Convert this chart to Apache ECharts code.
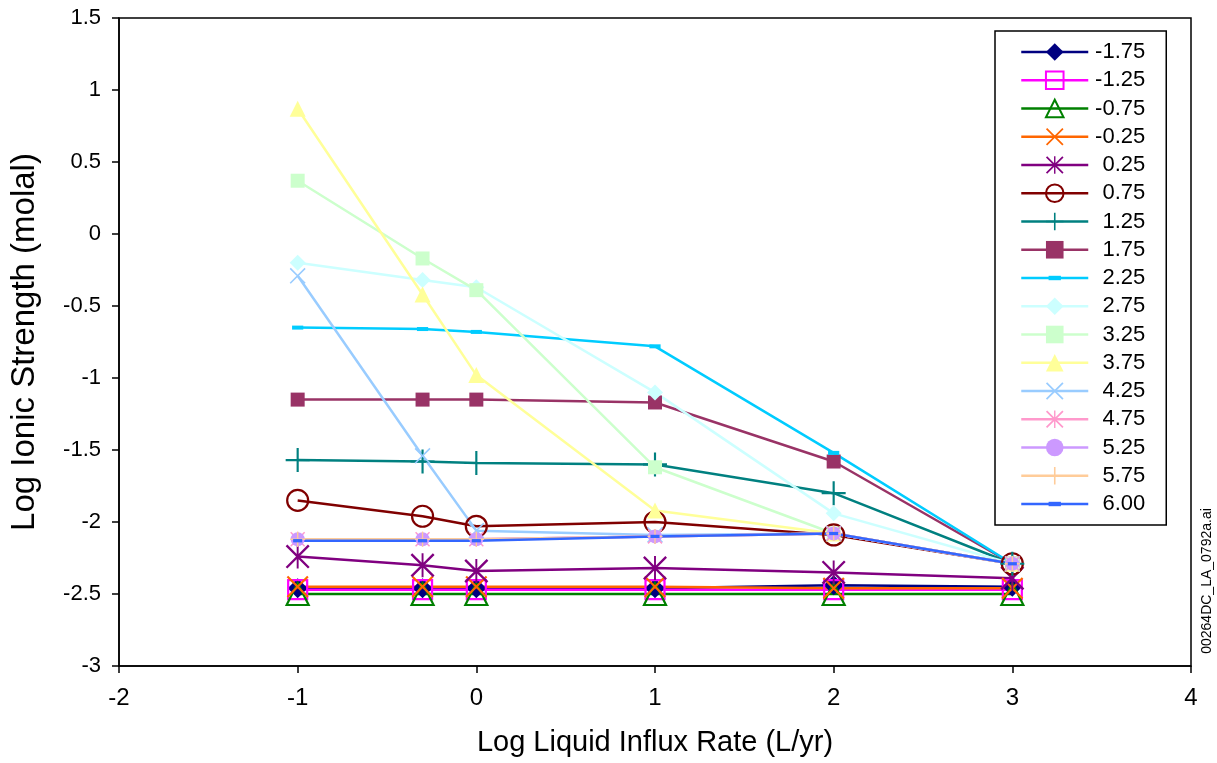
<!DOCTYPE html>
<html>
<head>
<meta charset="utf-8">
<script src="https://cdn.jsdelivr.net/npm/echarts@6/dist/echarts.min.js"></script>
<style>
  html,body{margin:0;padding:0;background:#fff}
  #myChart{width:1217px;height:763px}
</style>
</head>
<body>
<div id="myChart"></div>
<script>
// x = log liquid influx rate
let xVals=[-1, -0.301, 0, 1, 2, 3]
let names=['-1.75','-1.25','-0.75','-0.25','0.25','0.75','1.25','1.75','2.25','2.75','3.25','3.75','4.25','4.75','5.25','5.75','6.00']
let s_m175=[-2.46, -2.46, -2.46, -2.46, -2.44, -2.45]
let s_m125=[-2.47, -2.47, -2.47, -2.47, -2.47, -2.47]
let s_m075=[-2.50, -2.50, -2.50, -2.50, -2.50, -2.50]
let s_m025=[-2.45, -2.45, -2.45, -2.45, -2.46, -2.46]
let s_025=[-2.24, -2.30, -2.34, -2.32, -2.35, -2.39]
let s_075=[-1.85, -1.96, -2.03, -2.00, -2.09, -2.29]
let s_125=[-1.57, -1.58, -1.59, -1.60, -1.80, -2.29]
let s_175=[-1.15, -1.15, -1.15, -1.17, -1.58, -2.29]
let s_225=[-0.65, -0.66, -0.68, -0.78, -1.52, -2.29]
let s_275=[-0.20, -0.32, -0.37, -1.10, -1.94, -2.29]
let s_325=[0.37, -0.17, -0.39, -1.62, -2.08, -2.29]
let s_375=[0.87, -0.42, -0.98, -1.92, -2.08, -2.29]
let s_425=[-0.29, -1.54, -2.06, -2.09, -2.08, -2.29]
let s_475=[-2.12, -2.12, -2.12, -2.10, -2.08, -2.29]
let s_525=[-2.12, -2.12, -2.12, -2.10, -2.08, -2.29]
let s_575=[-2.12, -2.12, -2.12, -2.10, -2.08, -2.29]
let s_600=[-2.13, -2.13, -2.13, -2.10, -2.08, -2.29]
let allData=[s_m175,s_m125,s_m075,s_m025,s_025,s_075,s_125,s_175,s_225,s_275,s_325,s_375,s_425,s_475,s_525,s_575,s_600]

// marker shapes
let P_X='path://M0,1.4L1.4,0L20,18.6L18.6,20ZM18.6,0L20,1.4L1.4,20L0,18.6Z'
let P_STAR=P_X+'M9.2,0h1.6v20h-1.6z'
let P_PLUS='path://M9.1,0h1.8v20h-1.8zM0,9.1h20v1.8h-20z'
let P_DASH='path://M0,0L0,0M20,20L20,20M3,7.5h14v5h-14z'

let styles=[
  {c:'#000080', sym:'diamond', size:20},
  {c:'#FF00FF', sym:'rect', size:19, hollow:true},
  {c:'#008000', sym:'triangle', size:22, hollow:true},
  {c:'#FF6600', sym:P_X, size:22},
  {c:'#800080', sym:P_STAR, size:24},
  {c:'#800000', sym:'circle', size:21, hollow:true},
  {c:'#008080', sym:P_PLUS, size:24},
  {c:'#993366', sym:'rect', size:14},
  {c:'#00CCFF', sym:P_DASH, size:16},
  {c:'#CCFFFF', sym:'diamond', size:16},
  {c:'#CCFFCC', sym:'rect', size:14},
  {c:'#FFFF99', sym:'triangle', size:16},
  {c:'#99CCFF', sym:P_X, size:16},
  {c:'#FF99CC', sym:P_STAR, size:15},
  {c:'#CC99FF', sym:'circle', size:14},
  {c:'#FFCC99', sym:P_PLUS, size:15},
  {c:'#3366FF', sym:P_DASH, size:13}
]

let series=names.map((n,i)=>{
  let st=styles[i]
  return {
    name:n,
    type:'line',
    symbol:st.sym,
    symbolSize:st.size,
    data:xVals.map((x,j)=>[x,allData[i][j]]),
    lineStyle:{color:st.c,width:2.5},
    itemStyle:st.hollow?{color:'rgba(255,255,255,0)',borderColor:st.c,borderWidth:2.2}:{color:st.c,borderWidth:0},
    emphasis:{disabled:true}
  }
})

let myChart=echarts.init(document.getElementById('myChart'))
let font='"Liberation Sans", Arial, sans-serif'
let options={
  animation:false,
  backgroundColor:'#fff',
  grid:{
    left:118, top:18, right:26, bottom:97,
    show:true, borderColor:'#000', borderWidth:1.5
  },
  legend:{
    orient:'vertical',
    left:995, top:31,
    padding:[10,21,10,25],
    itemWidth:67, itemHeight:22, itemGap:6.25,
    backgroundColor:'#fff',
    borderColor:'#000', borderWidth:1.5,
    lineStyle:{width:2.5},
    data:names,
    formatter:n=>'{a|'+n+'}',
    textStyle:{
      rich:{a:{width:52, align:'right', fontSize:22, fontFamily:font, color:'#000', lineHeight:20}}
    }
  },
  xAxis:{
    type:'value', min:-2, max:4, interval:1,
    name:'Log Liquid Influx Rate (L/yr)',
    nameLocation:'middle', nameGap:62,
    nameTextStyle:{fontSize:29, fontFamily:font, color:'#000'},
    axisLine:{onZero:false, lineStyle:{color:'#000',width:1.5}},
    axisTick:{inside:false, length:7, lineStyle:{color:'#000',width:1.5}},
    axisLabel:{fontSize:24, fontFamily:font, color:'#000', margin:20},
    splitLine:{show:false}
  },
  yAxis:{
    type:'value', min:-3, max:1.5, interval:0.5,
    name:'Log Ionic Strength (molal)',
    nameLocation:'middle', nameGap:78,
    nameTextStyle:{fontSize:33, fontFamily:font, color:'#000'},
    axisLine:{onZero:false, lineStyle:{color:'#000',width:1.5}},
    axisTick:{inside:false, length:7, lineStyle:{color:'#000',width:1.5}},
    axisLabel:{fontSize:22, fontFamily:font, color:'#000', margin:18},
    splitLine:{show:false}
  },
  graphic:[{
    type:'text',
    x:1207, y:581,
    rotation:Math.PI/2,
    style:{text:'00264DC_LA_0792a.ai', align:'center', verticalAlign:'middle', font:'14px '+font, fill:'#000'}
  }],
  series:series
}
myChart.setOption(options)
</script>
</body>
</html>
